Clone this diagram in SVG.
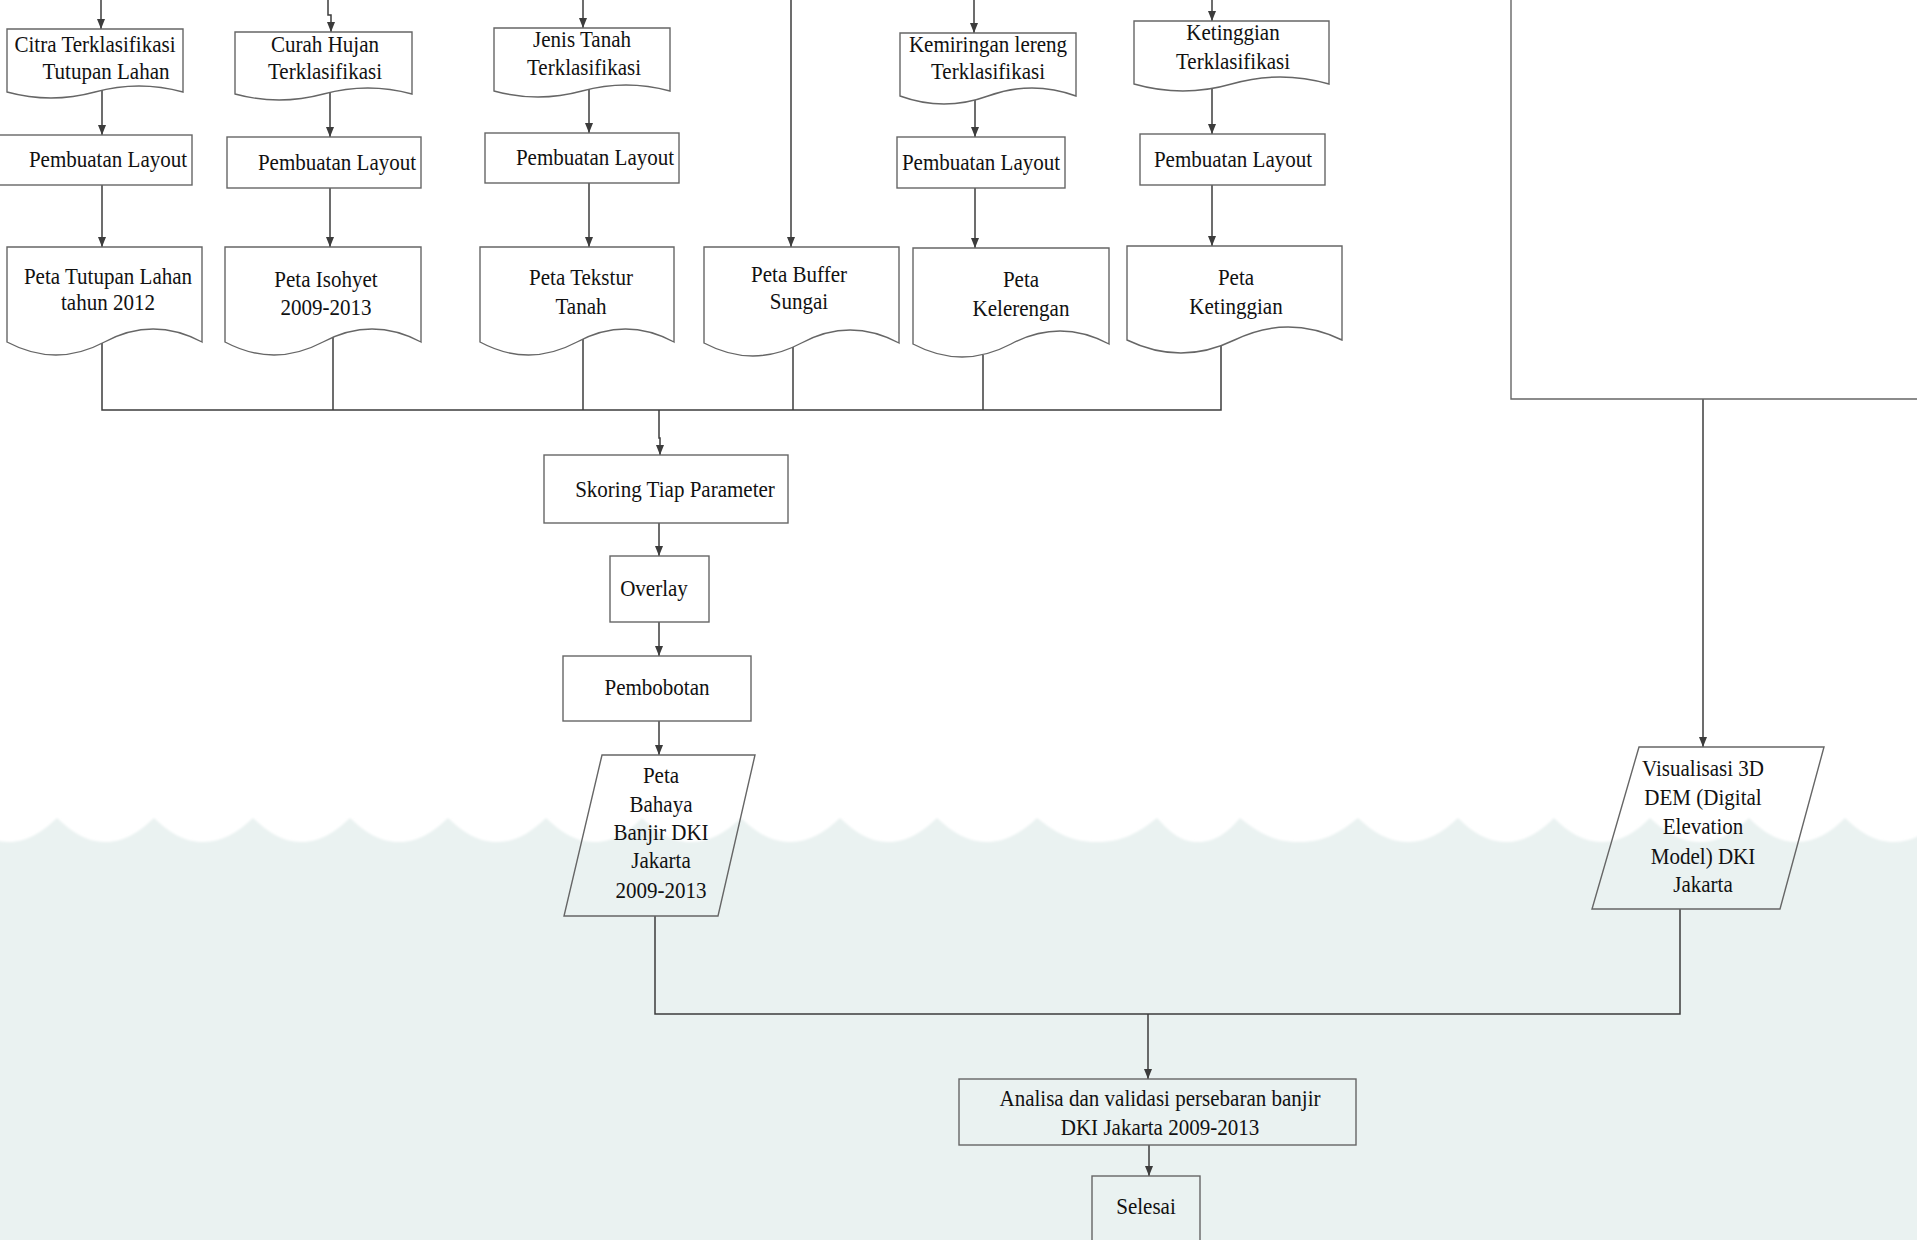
<svg xmlns="http://www.w3.org/2000/svg" width="1917" height="1240" viewBox="0 0 1917 1240">
  <defs>
    <style>
      .node { fill: none; stroke: #666666; stroke-width: 1.4; }
      .edge { fill: none; stroke: #3c3c3c; stroke-width: 1.5; }
      .arrow { marker-end: url(#head); }
      text { font-family: "Liberation Serif", "Times New Roman", serif; font-size: 22.5px; fill: #111111; text-anchor: middle; }
    </style>
    <marker id="head" viewBox="0 0 10 8" refX="10" refY="4" markerWidth="10" markerHeight="8" markerUnits="userSpaceOnUse" orient="auto">
      <path d="M0,0 L10,4 L0,8 Z" fill="#3c3c3c"/>
    </marker>
    <filter id="soft" x="-1%" y="-10%" width="102%" height="120%">
      <feGaussianBlur stdDeviation="1.2"/>
    </filter>
  </defs>

  <!-- background -->
  <rect x="0" y="0" width="1917" height="1240" fill="#ffffff"/>
  <path id="water" filter="url(#soft)" fill="#eaf2f1"
    d="M-40,818
       C-25,832 -11,842 8,842 C28,842 42,832 57,818
       C72,832 86,842 105,842 C125,842 139,832 154,818
       C169,832 183,842 203,842 C223,842 238,832 253,818
       C268,832 282,842 301,842 C321,842 335,832 350,818
       C365,832 379,842 399,842 C419,842 433,832 448,818
       C463,832 477,842 497,842 C517,842 531,832 546,818
       C561,832 575,842 594,842 C614,842 628,832 642,818
       C657,832 671,842 691,842 C711,842 726,832 741,818
       C756,832 770,842 790,842 C810,842 825,832 840,818
       C855,832 869,842 888,842 C908,842 922,832 937,818
       C952,832 967,842 987,842 C1007,842 1022,832 1037,818
       C1055,832 1070,842 1097,842 C1124,842 1139,832 1157,818
       C1170,832 1180,842 1198,842 C1216,842 1228,832 1240,818
       C1258,832 1272,842 1299,842 C1326,842 1340,832 1358,818
       C1373,832 1388,842 1408,842 C1428,842 1443,832 1458,818
       C1472,832 1487,842 1506,842 C1525,842 1540,832 1554,818
       C1568,832 1583,842 1602,842 C1621,842 1636,832 1650,818
       C1665,832 1680,842 1700,842 C1720,842 1734,832 1749,818
       C1763,832 1778,842 1797,842 C1816,842 1831,832 1845,818
       C1860,832 1874,842 1894,842 C1914,842 1928,832 1942,818
       L1942,1260 L-40,1260 Z"/>

  <!-- connectors -->
  <g id="connectors">
    <path class="edge arrow" d="M101,0 V29"/>
    <path class="edge arrow" d="M328,0 V15 H331 V32"/>
    <path class="edge arrow" d="M583,0 V28"/>
    <path class="edge arrow" d="M791,0 V247"/>
    <path class="edge arrow" d="M974,0 V33"/>
    <path class="edge arrow" d="M1212,0 V21"/>

    <path class="edge arrow" d="M102,90 V135"/>
    <path class="edge arrow" d="M330,92 V137"/>
    <path class="edge arrow" d="M589,89 V133"/>
    <path class="edge arrow" d="M975,100 V137"/>
    <path class="edge arrow" d="M1212,88 V134"/>

    <path class="edge arrow" d="M102,185 V247"/>
    <path class="edge arrow" d="M330,188 V247"/>
    <path class="edge arrow" d="M589,183 V247"/>
    <path class="edge arrow" d="M975,188 V248"/>
    <path class="edge arrow" d="M1212,185 V246"/>

    <path class="edge" d="M102,343 V410 H1221 V346"/>
    <path class="edge" d="M333,337 V410"/>
    <path class="edge" d="M583,339 V410"/>
    <path class="edge" d="M793,347 V410"/>
    <path class="edge" d="M983,355 V410"/>

    <path class="edge arrow" d="M659,410 V438 H660 V455"/>
    <path class="edge arrow" d="M659,523 V556"/>
    <path class="edge arrow" d="M659,622 V656"/>
    <path class="edge arrow" d="M659,721 V755"/>

    <path class="edge arrow" d="M1703,399 V747"/>

    <path class="edge" d="M655,916 V1014 H1680 V909"/>
    <path class="edge arrow" d="M1148,1014 V1079"/>
    <path class="edge arrow" d="M1149,1145 V1176"/>
  </g>

  <!-- outline of the panel at the upper right -->
  <g id="panel-dem">
    <path class="node" d="M1511,-2 V399 H1920"/>
  </g>

  <!-- classified inputs -->
  <g id="citra-terklasifikasi">
    <path class="node" d="M7,29 H183 V92 Q139,80 95,92 T7,92 Z"/>
    <text transform="translate(95,52) scale(0.935,1)">Citra Terklasifikasi</text>
    <text transform="translate(106,79) scale(0.935,1)">Tutupan Lahan</text>
  </g>
  <g id="curah-hujan">
    <path class="node" d="M235,32 H412 V94 Q368,82 323.5,94 T235,94 Z"/>
    <text transform="translate(325,52) scale(0.935,1)">Curah Hujan</text>
    <text transform="translate(325,79) scale(0.935,1)">Terklasifikasi</text>
  </g>
  <g id="jenis-tanah">
    <path class="node" d="M494,28 H670 V91 Q626,79 582,91 T494,91 Z"/>
    <text transform="translate(582,47) scale(0.935,1)">Jenis Tanah</text>
    <text transform="translate(584,75) scale(0.935,1)">Terklasifikasi</text>
  </g>
  <g id="kemiringan-lereng">
    <path class="node" d="M900,33 H1076 V96 Q1032,80 988,96 T900,96 Z"/>
    <text transform="translate(988,52) scale(0.935,1)">Kemiringan lereng</text>
    <text transform="translate(988,79) scale(0.935,1)">Terklasifikasi</text>
  </g>
  <g id="ketinggian">
    <path class="node" d="M1134,21 H1329 V84 Q1280,70 1231.5,84 T1134,84 Z"/>
    <text transform="translate(1233,40) scale(0.935,1)">Ketinggian</text>
    <text transform="translate(1233,69) scale(0.935,1)">Terklasifikasi</text>
  </g>

  <!-- layout steps -->
  <g id="layout-1">
    <rect class="node" x="-2" y="135" width="194" height="50"/>
    <text transform="translate(108,167) scale(0.935,1)">Pembuatan Layout</text>
  </g>
  <g id="layout-2">
    <rect class="node" x="227" y="137" width="194" height="51"/>
    <text transform="translate(337,170) scale(0.935,1)">Pembuatan Layout</text>
  </g>
  <g id="layout-3">
    <rect class="node" x="485" y="133" width="194" height="50"/>
    <text transform="translate(595,165) scale(0.935,1)">Pembuatan Layout</text>
  </g>
  <g id="layout-4">
    <rect class="node" x="897" y="137" width="168" height="51"/>
    <text transform="translate(981,170) scale(0.935,1)">Pembuatan Layout</text>
  </g>
  <g id="layout-5">
    <rect class="node" x="1140" y="134" width="185" height="51"/>
    <text transform="translate(1233,167) scale(0.935,1)">Pembuatan Layout</text>
  </g>

  <!-- thematic maps -->
  <g id="peta-tutupan-lahan">
    <path class="node" d="M7,247 H202 V342 Q153,316 104.5,342 T7,342 Z"/>
    <text transform="translate(108,284) scale(0.935,1)">Peta Tutupan Lahan</text>
    <text transform="translate(108,310) scale(0.935,1)">tahun 2012</text>
  </g>
  <g id="peta-isohyet">
    <path class="node" d="M225,247 H421 V342 Q372,316 323,342 T225,342 Z"/>
    <text transform="translate(326,287) scale(0.935,1)">Peta Isohyet</text>
    <text transform="translate(326,315) scale(0.935,1)">2009-2013</text>
  </g>
  <g id="peta-tekstur-tanah">
    <path class="node" d="M480,247 H674 V342 Q625.5,316 577,342 T480,342 Z"/>
    <text transform="translate(581,285) scale(0.935,1)">Peta Tekstur</text>
    <text transform="translate(581,314) scale(0.935,1)">Tanah</text>
  </g>
  <g id="peta-buffer-sungai">
    <path class="node" d="M704,247 H899 V343 Q850,317 801.5,343 T704,343 Z"/>
    <text transform="translate(799,282) scale(0.935,1)">Peta Buffer</text>
    <text transform="translate(799,309) scale(0.935,1)">Sungai</text>
  </g>
  <g id="peta-kelerengan">
    <path class="node" d="M913,248 H1109 V344 Q1060,318 1011,344 T913,344 Z"/>
    <text transform="translate(1021,287) scale(0.935,1)">Peta</text>
    <text transform="translate(1021,316) scale(0.935,1)">Kelerengan</text>
  </g>
  <g id="peta-ketinggian">
    <path class="node" d="M1127,246 H1342 V340 Q1288,314 1234.5,340 T1127,340 Z"/>
    <text transform="translate(1236,285) scale(0.935,1)">Peta</text>
    <text transform="translate(1236,314) scale(0.935,1)">Ketinggian</text>
  </g>

  <!-- analysis chain -->
  <g id="skoring">
    <rect class="node" x="544" y="455" width="244" height="68"/>
    <text transform="translate(675,497) scale(0.935,1)">Skoring Tiap Parameter</text>
  </g>
  <g id="overlay">
    <rect class="node" x="610" y="556" width="99" height="66"/>
    <text transform="translate(654,596) scale(0.935,1)">Overlay</text>
  </g>
  <g id="pembobotan">
    <rect class="node" x="563" y="656" width="188" height="65"/>
    <text transform="translate(657,695) scale(0.935,1)">Pembobotan</text>
  </g>
  <g id="peta-bahaya-banjir">
    <polygon class="node" points="602,755 755,755 718,916 564,916"/>
    <text transform="translate(661,783) scale(0.935,1)">Peta</text>
    <text transform="translate(661,812) scale(0.935,1)">Bahaya</text>
    <text transform="translate(661,840) scale(0.935,1)">Banjir DKI</text>
    <text transform="translate(661,868) scale(0.935,1)">Jakarta</text>
    <text transform="translate(661,898) scale(0.935,1)">2009-2013</text>
  </g>
  <g id="visualisasi-dem">
    <polygon class="node" points="1639,747 1824,747 1780,909 1592,909"/>
    <text transform="translate(1703,776) scale(0.935,1)">Visualisasi 3D</text>
    <text transform="translate(1703,805) scale(0.935,1)">DEM (Digital</text>
    <text transform="translate(1703,834) scale(0.935,1)">Elevation</text>
    <text transform="translate(1703,864) scale(0.935,1)">Model) DKI</text>
    <text transform="translate(1703,892) scale(0.935,1)">Jakarta</text>
  </g>
  <g id="analisa">
    <rect class="node" x="959" y="1079" width="397" height="66"/>
    <text transform="translate(1160,1106) scale(0.935,1)">Analisa dan validasi persebaran banjir</text>
    <text transform="translate(1160,1135) scale(0.935,1)">DKI Jakarta 2009-2013</text>
  </g>
  <g id="selesai">
    <rect class="node" x="1092" y="1176" width="108" height="80"/>
    <text transform="translate(1146,1214) scale(0.935,1)">Selesai</text>
  </g>
</svg>
